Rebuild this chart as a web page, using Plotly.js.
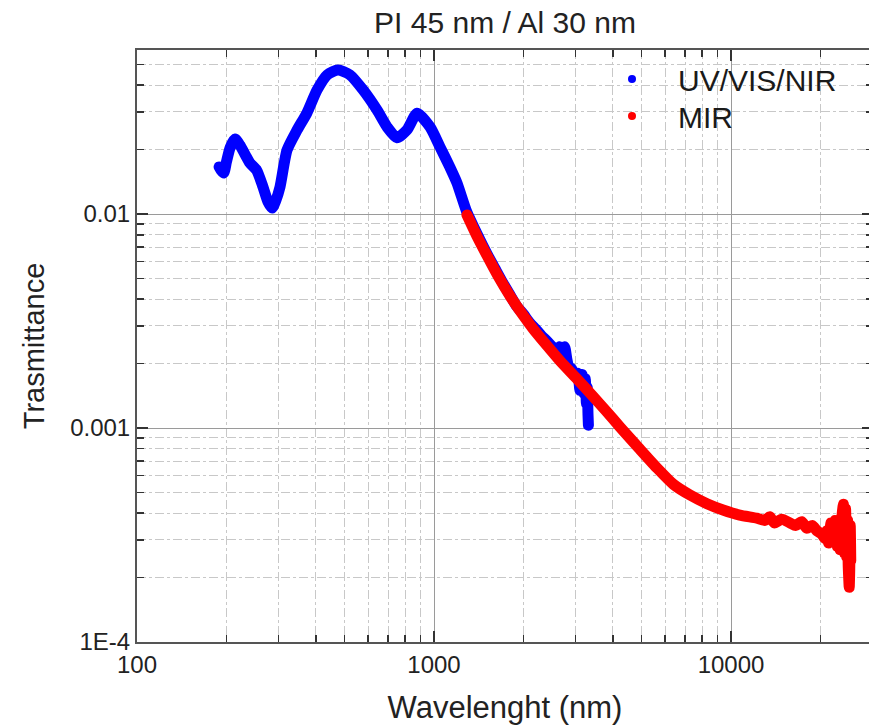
<!DOCTYPE html>
<html>
<head>
<meta charset="utf-8">
<script src="https://cdn.plot.ly/plotly-3.0.1.min.js"></script>
<style>
html,body{margin:0;padding:0;overflow:hidden;background:#fff;}
#chart{width:880px;height:727px;}
path.js-line{stroke-linejoin:round;stroke-linecap:round;}
</style>
</head>
<body>
<div id="chart"></div>
<script>
// ---- Data ----
const uvWavelength = [189, 192, 196, 200, 206, 214, 222, 232, 240, 253, 265, 276, 285, 293, 303, 320, 346, 373, 404, 437, 475, 521, 577, 643, 695, 750, 811, 877, 970, 1047, 1132, 1194, 1290, 1400, 1500, 1600, 1700, 1800, 1900, 2000, 2100, 2200, 2300, 2400, 2500, 2600, 2650, 2700, 2750, 2800, 2850, 2900, 2950, 3000, 3050, 3100, 3150, 3200, 3230, 3260, 3280, 3300, 3310];
const uvTransmittance = [0.0166, 0.0160, 0.01556, 0.0175, 0.0205, 0.0224, 0.0210, 0.0188, 0.0173, 0.0160, 0.0135, 0.0114, 0.01066, 0.0115, 0.01337, 0.0199, 0.0247, 0.0296, 0.0380, 0.0447, 0.0471, 0.0447, 0.0380, 0.0306, 0.0255, 0.0227, 0.0247, 0.0296, 0.0255, 0.0206, 0.0165, 0.0140, 0.0102, 0.0080, 0.0066, 0.0056, 0.0048, 0.0042, 0.0037, 0.0034, 0.0031, 0.0029, 0.0027, 0.00255, 0.0024, 0.0023, 0.0024, 0.00235, 0.0024, 0.0021, 0.0019, 0.0019, 0.0018, 0.00175, 0.0018, 0.0015, 0.00178, 0.00145, 0.0017, 0.0013, 0.00155, 0.00115, 0.00103];

const mirWavelength = [1291, 1400, 1508, 1647, 1803, 2000, 2160, 2400, 2656, 3000, 3439, 3800, 4230, 4900, 5634, 6400, 7278, 8300, 9400, 10700, 12220, 13000, 13500, 14000, 14800, 15800, 16500, 17300, 18000, 18800, 19500, 20200, 20700, 21000, 21300, 21700, 22000, 22400, 22800, 23100, 23300, 23600, 23900, 24100, 24300, 24500, 24700, 24800, 24900, 25000, 25100, 25200, 25300];
const mirTransmittance = [0.0099, 0.0078, 0.0064, 0.0051, 0.00414, 0.00335, 0.0029, 0.00243, 0.00206, 0.00172, 0.0014, 0.0012, 0.00101, 0.000804, 0.00065, 0.000545, 0.000486, 0.000443, 0.000414, 0.000392, 0.000379, 0.00037, 0.000385, 0.00036, 0.000375, 0.00036, 0.00035, 0.000365, 0.00034, 0.00035, 0.00033, 0.00032, 0.000305, 0.00033, 0.00029, 0.00036, 0.0003, 0.00037, 0.00028, 0.00034, 0.00027, 0.00038, 0.00044, 0.00026, 0.00042, 0.00025, 0.00037, 0.00023, 0.0002, 0.00018, 0.00022, 0.00035, 0.00024];

const seriesNames = ['UV/VIS/NIR', 'MIR'];
const xTickValues = [100, 1000, 10000];
const xTickLabels = ['100', '1000', '10000'];
const yTickValues = [1e-4, 1e-3, 1e-2];
const yTickLabels = ['1E-4', '0.001', '0.01'];

// ---- Styling helpers ----
const FONT = 'Liberation Sans, Arial, sans-serif';
const BLUE = '#0000ff';
const RED = '#ff0000';

function minorVals(decades) {
  const out = [];
  decades.forEach(d => { for (let k = 2; k <= 9; k++) out.push(d * k); });
  return out;
}

const traces = [
  {x: uvWavelength, y: uvTransmittance, mode: 'lines', line: {color: BLUE, width: 11, shape: 'spline', smoothing: 0.6}, showlegend: false, hoverinfo: 'skip'},
  {x: mirWavelength, y: mirTransmittance, mode: 'lines', line: {color: RED, width: 11, shape: 'spline', smoothing: 0.6}, showlegend: false, hoverinfo: 'skip'},
  {x: [null], y: [null], mode: 'markers', name: seriesNames[0], legend: 'legend', marker: {color: BLUE, size: 8, symbol: 'circle'}},
  {x: [null], y: [null], mode: 'markers', name: seriesNames[1], legend: 'legend2', marker: {color: RED, size: 8, symbol: 'circle'}}
];

const axisCommon = {
  type: 'log',
  tickmode: 'array',
  ticks: 'inside',
  ticklen: 11,
  tickwidth: 1.5,
  tickcolor: '#333',
  showline: true,
  linecolor: '#555',
  linewidth: 2,
  mirror: 'ticks',
  showgrid: true,
  gridcolor: '#9a9a9a',
  gridwidth: 1,
  zeroline: false,
  tickfont: {family: FONT, size: 24, color: '#222'}
};

const legendCommon = {
  xref: 'paper', xanchor: 'left',
  yref: 'paper', yanchor: 'middle',
  bgcolor: 'rgba(0,0,0,0)',
  itemwidth: 82,
  font: {family: FONT, size: 30, color: '#1a1a1a'}
};

const layout = {
  width: 880,
  height: 727,
  margin: {l: 137, r: 7, t: 50, b: 85},
  paper_bgcolor: '#fff',
  plot_bgcolor: '#fff',
  font: {family: FONT, color: '#222'},
  title: {
    text: 'PI 45 nm / Al 30 nm',
    font: {family: FONT, size: 30, color: '#222'},
    xref: 'paper', x: 0.5, xanchor: 'center',
    yref: 'container', y: 1 - 22 / 727, yanchor: 'middle'
  },
  xaxis: Object.assign({}, axisCommon, {
    range: [2, 4.478],
    tickvals: xTickValues,
    ticktext: xTickLabels,
    minor: {tickmode: 'array', tickvals: minorVals([100, 1000, 10000]), ticks: 'inside', ticklen: 7, tickcolor: '#333', showgrid: true, gridcolor: '#c8c8c8', griddash: 'dashdot', gridwidth: 1},
    title: {text: 'Wavelenght (nm)', font: {family: FONT, size: 31, color: '#222'}, standoff: 20}
  }),
  yaxis: Object.assign({}, axisCommon, {
    range: [-4, Math.log10(0.0584)],
    tickvals: yTickValues,
    ticktext: yTickLabels,
    minor: {tickmode: 'array', tickvals: minorVals([1e-4, 1e-3, 1e-2]), ticks: 'inside', ticklen: 7, tickcolor: '#333', showgrid: true, gridcolor: '#c8c8c8', griddash: 'dashdot', gridwidth: 1},
    title: {text: 'Trasmittance', font: {family: FONT, size: 29, color: '#222'}, standoff: 17}
  }),
  legend: Object.assign({}, legendCommon, {x: (586 - 137) / 736, y: 1 - (79 - 50) / 592}),
  legend2: Object.assign({}, legendCommon, {x: (586 - 137) / 736, y: 1 - (116 - 50) / 592})
};

Plotly.newPlot('chart', traces, layout, {staticPlot: true, displayModeBar: false});
</script>
</body>
</html>
